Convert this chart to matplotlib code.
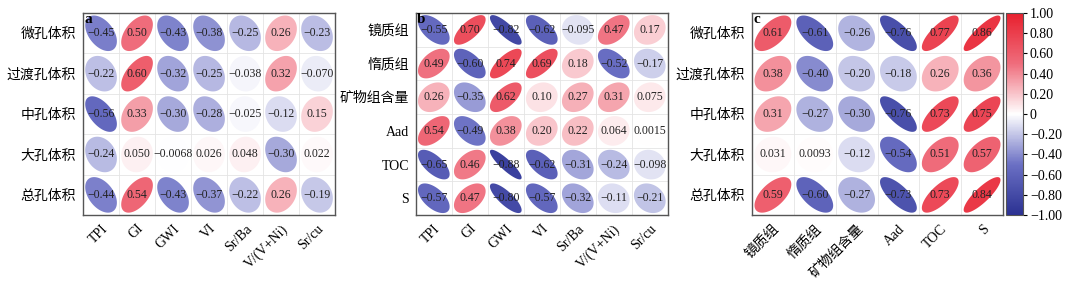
import numpy as np
import matplotlib.pyplot as plt
from matplotlib.colors import LinearSegmentedColormap, Normalize
from matplotlib.patches import Polygon
import matplotlib as mpl

plt.rcParams['font.family'] = ['Liberation Serif', 'Noto Sans CJK SC', 'DejaVu Sans']
plt.rcParams['axes.unicode_minus'] = True

# data
pore_rows = ['微孔体积', '过渡孔体积', '中孔体积', '大孔体积', '总孔体积']
coal_rows = ['镜质组', '惰质组', '矿物组含量', 'Aad', 'TOC', 'S']
env_cols = ['TPI', 'GI', 'GWI', 'VI', 'Sr/Ba', 'V/(V+Ni)', 'Sr/cu']
coal_cols = ['镜质组', '惰质组', '矿物组含量', 'Aad', 'TOC', 'S']

vals_a = [[-0.45, 0.50, -0.43, -0.38, -0.25, 0.26, -0.23],
          [-0.22, 0.60, -0.32, -0.25, -0.038, 0.32, -0.070],
          [-0.56, 0.33, -0.30, -0.28, -0.025, -0.12, 0.15],
          [-0.24, 0.050, -0.0068, 0.026, 0.048, -0.30, 0.022],
          [-0.44, 0.54, -0.43, -0.37, -0.22, 0.26, -0.19]]
vals_b = [[-0.55, 0.70, -0.82, -0.62, -0.095, 0.47, 0.17],
          [0.49, -0.60, 0.74, 0.69, 0.18, -0.52, -0.17],
          [0.26, -0.35, 0.62, 0.10, 0.27, 0.31, 0.075],
          [0.54, -0.49, 0.38, 0.20, 0.22, 0.064, 0.0015],
          [-0.65, 0.46, -0.88, -0.62, -0.31, -0.24, -0.098],
          [-0.57, 0.47, -0.80, -0.57, -0.32, -0.11, -0.21]]
vals_c = [[0.61, -0.61, -0.26, -0.76, 0.77, 0.86],
          [0.38, -0.40, -0.20, -0.18, 0.26, 0.36],
          [0.31, -0.27, -0.30, -0.76, 0.73, 0.75],
          [0.031, 0.0093, -0.12, -0.54, 0.51, 0.57],
          [0.59, -0.60, -0.27, -0.73, 0.73, 0.84]]
labels_a = ['−0.45', '0.50', '−0.43', '−0.38', '−0.25', '0.26', '−0.23',
            '−0.22', '0.60', '−0.32', '−0.25', '−0.038', '0.32', '−0.070',
            '−0.56', '0.33', '−0.30', '−0.28', '−0.025', '−0.12', '0.15',
            '−0.24', '0.050', '−0.0068', '0.026', '0.048', '−0.30', '0.022',
            '−0.44', '0.54', '−0.43', '−0.37', '−0.22', '0.26', '−0.19']
labels_b = ['−0.55', '0.70', '−0.82', '−0.62', '−0.095', '0.47', '0.17',
            '0.49', '−0.60', '0.74', '0.69', '0.18', '−0.52', '−0.17',
            '0.26', '−0.35', '0.62', '0.10', '0.27', '0.31', '0.075',
            '0.54', '−0.49', '0.38', '0.20', '0.22', '0.064', '0.0015',
            '−0.65', '0.46', '−0.88', '−0.62', '−0.31', '−0.24', '−0.098',
            '−0.57', '0.47', '−0.80', '−0.57', '−0.32', '−0.11', '−0.21']
labels_c = ['0.61', '−0.61', '−0.26', '−0.76', '0.77', '0.86',
            '0.38', '−0.40', '−0.20', '−0.18', '0.26', '0.36',
            '0.31', '−0.27', '−0.30', '−0.76', '0.73', '0.75',
            '0.031', '0.0093', '−0.12', '−0.54', '0.51', '0.57',
            '0.59', '−0.60', '−0.27', '−0.73', '0.73', '0.84']

cmap = LinearSegmentedColormap.from_list('bwr2', ['#2b3192', '#6b70c4', '#ffffff', '#ef6d7c', '#e8202e'])
norm = Normalize(-1, 1)


def corr_panel(ax, vals, labels, rows, cols, letter):
    vals = np.array(vals)
    nr, nc = vals.shape
    t = np.linspace(0, 2 * np.pi, 100)
    k = 0
    for i in range(nr):
        for j in range(nc):
            r = vals[i, j]
            d = np.arccos(r)
            x = 0.44 * np.cos(t + d / 2)
            y = 0.44 * np.cos(t - d / 2)
            # y axis is inverted, flip so positive r tilts up-right
            ax.add_patch(Polygon(np.column_stack([j + x, i - y]), closed=True,
                                 facecolor=cmap(norm(r)), edgecolor='none'))
            ax.text(j, i, labels[k], ha='center', va='center', fontsize=8.5, color='#222222')
            k += 1
    for i in range(nr + 1):
        ax.axhline(i - 0.5, color='#e4e4e4', lw=0.6, zorder=0)
    for j in range(nc + 1):
        ax.axvline(j - 0.5, color='#e4e4e4', lw=0.6, zorder=0)
    ax.set_xlim(-0.5, nc - 0.5)
    ax.set_ylim(nr - 0.5, -0.5)
    ax.set_xticks(range(nc))
    ax.set_xticklabels(cols, rotation=45, ha='right', rotation_mode='anchor', fontsize=10)
    ax.set_yticks(range(nr))
    ax.set_yticklabels(rows, fontsize=10)
    ax.tick_params(length=0, pad=5)
    for s in ax.spines.values():
        s.set_color('#555555')
        s.set_linewidth(1.0)
    ax.text(0.004, 0.998, letter, transform=ax.transAxes, ha='left', va='top',
            fontsize=11, fontweight='bold')


fig = plt.figure(figsize=(10.8, 2.83), dpi=100)
ax_a = fig.add_axes([0.0769, 0.240, 0.2333, 0.7138])
ax_b = fig.add_axes([0.385, 0.240, 0.2333, 0.7138])
ax_c = fig.add_axes([0.6963, 0.240, 0.2324, 0.7138])
cax = fig.add_axes([0.9315, 0.240, 0.0157, 0.7138])

corr_panel(ax_a, vals_a, labels_a, pore_rows, env_cols, 'a')
corr_panel(ax_b, vals_b, labels_b, coal_rows, env_cols, 'b')
corr_panel(ax_c, vals_c, labels_c, pore_rows, coal_cols, 'c')

cb = fig.colorbar(mpl.cm.ScalarMappable(norm=norm, cmap=cmap), cax=cax)
ticks = np.linspace(-1, 1, 11)
cb.set_ticks(ticks)
cb.set_ticklabels(['−1.00', '−0.80', '−0.60', '−0.40', '−0.20', '0', '0.20', '0.40', '0.60', '0.80', '1.00'])
cb.ax.tick_params(labelsize=10, length=3, width=0.8, pad=2)
cb.outline.set_edgecolor('#555555')

fig.savefig('out.png', dpi=100)
